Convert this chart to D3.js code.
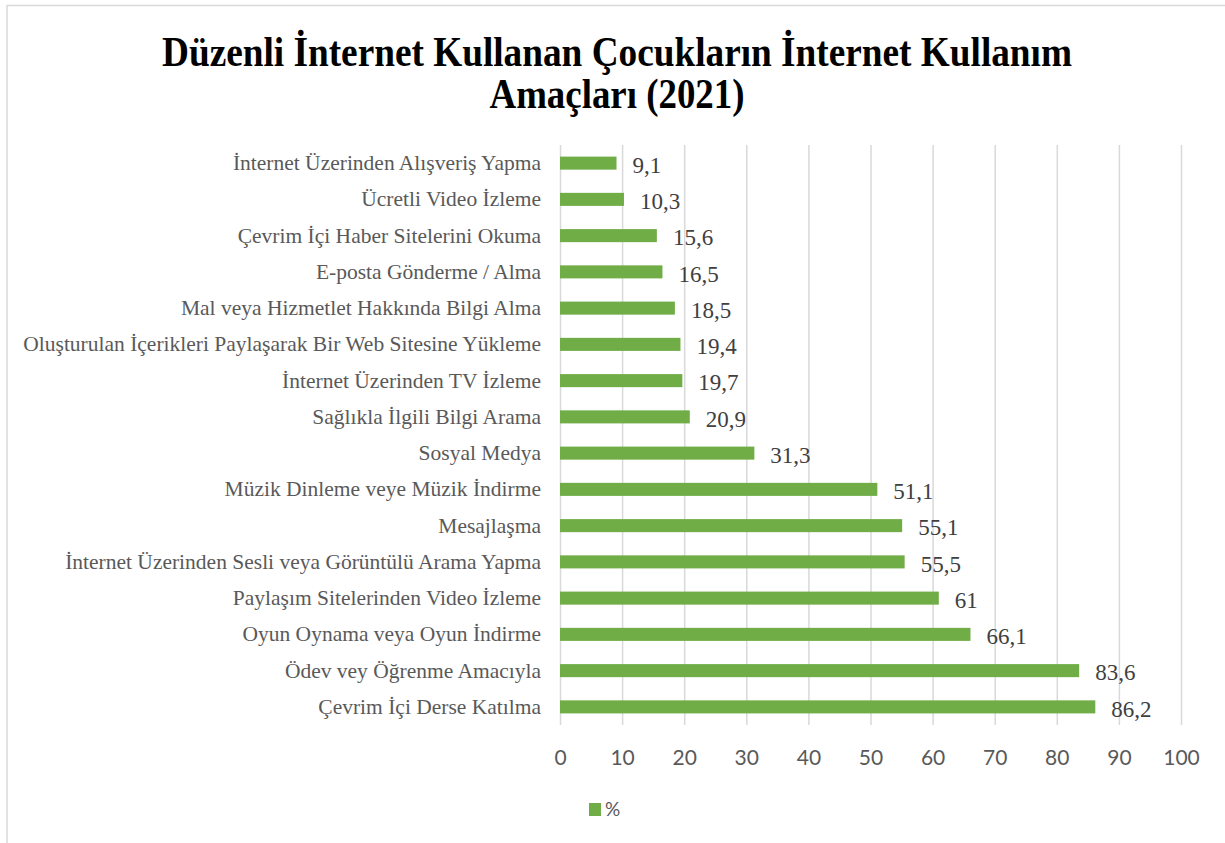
<!DOCTYPE html>
<html>
<head>
<meta charset="utf-8">
<script src="https://cdn.jsdelivr.net/npm/d3@7"></script>
<style>
  body { margin: 0; background: #fff; }
  svg { display: block; }
</style>
</head>
<body>
<div id="chart"></div>
<script>
// categories top to bottom, as shown in the chart
const categories = [
    'İnternet Üzerinden Alışveriş Yapma',
    'Ücretli Video İzleme',
    'Çevrim İçi Haber Sitelerini Okuma',
    'E-posta Gönderme / Alma',
    'Mal veya Hizmetlet Hakkında Bilgi Alma',
    'Oluşturulan İçerikleri Paylaşarak Bir Web Sitesine Yükleme',
    'İnternet Üzerinden TV İzleme',
    'Sağlıkla İlgili Bilgi Arama',
    'Sosyal Medya',
    'Müzik Dinleme veye Müzik İndirme',
    'Mesajlaşma',
    'İnternet Üzerinden Sesli veya Görüntülü Arama Yapma',
    'Paylaşım Sitelerinden Video İzleme',
    'Oyun Oynama veya Oyun İndirme',
    'Ödev vey Öğrenme Amacıyla',
    'Çevrim İçi Derse Katılma'
];
const values = [9.1, 10.3, 15.6, 16.5, 18.5, 19.4, 19.7, 20.9, 31.3, 51.1, 55.1, 55.5, 61, 66.1, 83.6, 86.2];
const xTicks = [0, 10, 20, 30, 40, 50, 60, 70, 80, 90, 100];
const seriesName = '%';
const titleLines = ['Düzenli İnternet Kullanan Çocukların İnternet Kullanım', 'Amaçları (2021)'];

const data = categories.map((c, i) => ({ name: c, value: values[i] }));

const W = 1225, H = 843;
const plot = { left: 560, right: 1181, top: 145, bottom: 725 };

const svg = d3.select('#chart').append('svg')
    .attr('width', W)
    .attr('height', H);

// outer frame (only top and left edges are visible)
svg.append('path')
    .attr('d', `M7,${H} V5.5 H${W}`)
    .attr('fill', 'none')
    .attr('stroke', '#d9d9d9')
    .attr('stroke-width', 1.5);

// title
svg.append('text')
    .attr('x', 617).attr('y', 66)
    .attr('text-anchor', 'middle')
    .attr('textLength', 910).attr('lengthAdjust', 'spacingAndGlyphs')
    .style('font', 'bold 42px "Liberation Serif", "Times New Roman", serif')
    .attr('fill', '#000')
    .text(titleLines[0]);
svg.append('text')
    .attr('x', 617).attr('y', 108)
    .attr('text-anchor', 'middle')
    .attr('textLength', 255).attr('lengthAdjust', 'spacingAndGlyphs')
    .style('font', 'bold 42px "Liberation Serif", "Times New Roman", serif')
    .attr('fill', '#000')
    .text(titleLines[1]);

const x = d3.scaleLinear()
    .domain([0, 100])
    .range([plot.left, plot.right]);

const y = d3.scaleBand()
    .domain(categories)
    .range([plot.top, plot.bottom])
    .paddingInner(0.64)
    .paddingOuter(0.32);

// gridlines
svg.append('g')
    .attr('transform', `translate(0,${plot.bottom})`)
    .call(d3.axisBottom(x).tickValues(xTicks).tickSize(-(plot.bottom - plot.top)).tickFormat(''))
    .call(g => g.select('.domain').remove())
    .call(g => g.selectAll('line').attr('stroke', '#d9d9d9').attr('stroke-width', 1.5));

// x tick labels
svg.append('g')
    .attr('transform', `translate(0,${plot.bottom})`)
    .call(d3.axisBottom(x).tickValues(xTicks).tickSize(0).tickPadding(25))
    .call(g => g.select('.domain').remove())
    .call(g => g.selectAll('text')
        .attr('fill', '#595959')
        .style('font-family', 'Lato, "Open Sans", sans-serif')
        .style('font-size', '21px'));

// category labels
svg.append('g')
    .attr('transform', `translate(${plot.left},0)`)
    .call(d3.axisLeft(y).tickSize(0).tickPadding(19))
    .call(g => g.select('.domain').remove())
    .call(g => g.selectAll('text')
        .attr('fill', '#595959')
        .style('font-family', '"Liberation Serif", "Times New Roman", serif')
        .style('font-size', '21.5px'));

// bars
svg.selectAll('.bar')
    .data(data)
    .enter().append('rect')
    .attr('class', 'bar')
    .attr('x', x(0))
    .attr('y', d => y(d.name))
    .attr('width', d => x(d.value) - x(0))
    .attr('height', y.bandwidth())
    .attr('fill', '#70ad47');

// value labels
svg.selectAll('.val')
    .data(data)
    .enter().append('text')
    .attr('class', 'val')
    .attr('x', d => x(d.value) + 16)
    .attr('y', d => y(d.name) + y.bandwidth() / 2)
    .attr('dy', '0.42em')
    .attr('fill', '#404040')
    .style('font-family', '"Liberation Serif", "Times New Roman", serif')
    .style('font-size', '23px')
    .text(d => String(d.value).replace('.', ','));

// legend
const legend = svg.append('g').attr('transform', 'translate(589,803)');
legend.append('rect')
    .attr('width', 12).attr('height', 13)
    .attr('fill', '#70ad47');
legend.append('text')
    .attr('x', 16).attr('y', 13)
    .attr('fill', '#595959')
    .style('font-family', 'Lato, "Open Sans", sans-serif')
    .style('font-size', '19px')
    .text(seriesName);
</script>
</body>
</html>
